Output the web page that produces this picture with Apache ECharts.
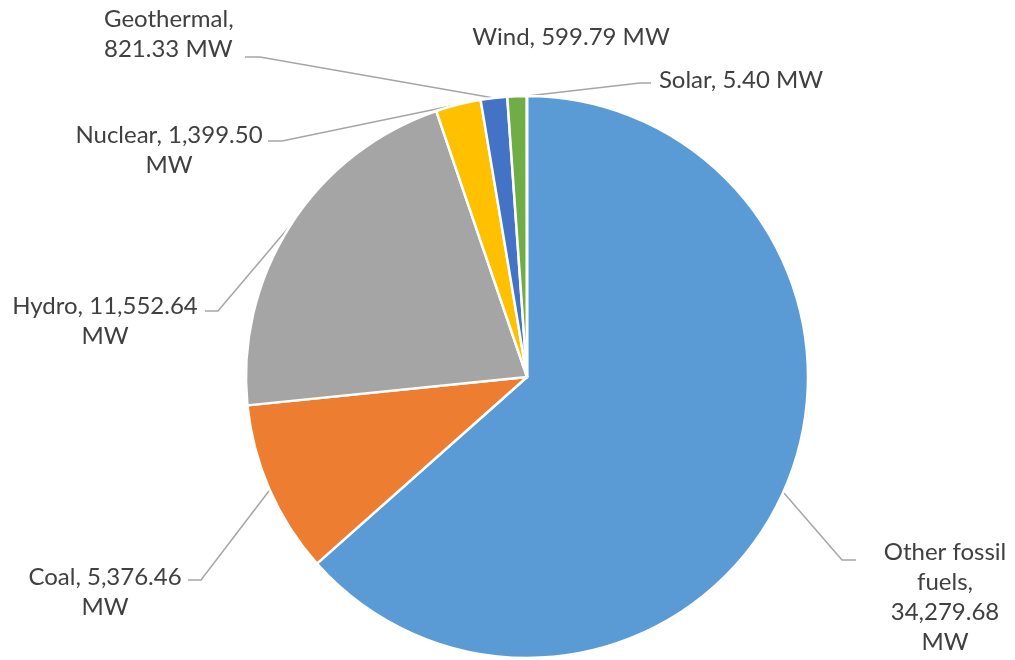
<!DOCTYPE html>
<html>
<head>
<meta charset="utf-8">
<script src="https://cdn.jsdelivr.net/npm/echarts@6/dist/echarts.min.js"></script>
<style>
  html, body { margin: 0; padding: 0; background: #ffffff; }
  #chart { width: 1015px; height: 660px; }
</style>
</head>
<body>
<div id="chart"></div>
<script>
// Installed generation capacity by source (MW)
const sources = ['Other fossil fuels', 'Coal', 'Hydro', 'Nuclear', 'Geothermal', 'Wind', 'Solar'];
const capacityMW = [34279.68, 5376.46, 11552.64, 1399.50, 821.33, 599.79, 5.40];
const sliceColors = ['#5B9BD5', '#ED7D31', '#A5A5A5', '#FFC000', '#4472C4', '#70AD47', '#255E91'];

// Word positions after which a label wraps onto a new line
const labelWrapAfter = [[2, 3, 4], [2], [2], [2], [1], [], []];

// Where each label sits and how its leader line bends before reaching it
const labelSpots = [
  { x: 945, y: 597, align: 'center', elbow: [842, 560], end: [856, 560] },
  { x: 105, y: 592, align: 'center', elbow: [201, 580], end: [188, 580] },
  { x: 105, y: 321, align: 'center', elbow: [218, 311], end: [205, 311] },
  { x: 169, y: 150, align: 'center', elbow: [282, 141], end: [268, 141] },
  { x: 104, y: 34,  align: 'left',   elbow: [260, 57],  end: [245, 57] },
  { x: 571, y: 37,  align: 'center', elbow: null, end: null },
  { x: 741, y: 80,  align: 'center', elbow: [640, 83],  end: [651, 83] }
];

function formatMW(v) {
  return v.toLocaleString('en-US', { minimumFractionDigits: 2, maximumFractionDigits: 2 });
}

function labelText(i) {
  const words = (sources[i] + ', ' + formatMW(capacityMW[i]) + ' MW').split(' ');
  let out = '';
  words.forEach(function (w, k) {
    if (k > 0) out += labelWrapAfter[i].indexOf(k) >= 0 ? '\n' : ' ';
    out += w;
  });
  return out;
}

const chart = echarts.init(document.getElementById('chart'), null, { renderer: 'canvas' });

chart.setOption({
  animation: false,
  backgroundColor: '#ffffff',
  series: [{
    type: 'pie',
    center: [527, 377],
    radius: [0, 281],
    startAngle: 90,
    clockwise: true,
    avoidLabelOverlap: false,
    itemStyle: { borderColor: '#ffffff', borderWidth: 2.5 },
    emphasis: { disabled: true },
    label: {
      show: true,
      position: 'outside',
      color: '#404040',
      fontFamily: 'Lato',
      fontSize: 24,
      lineHeight: 30,
      formatter: function (p) { return labelText(p.dataIndex); }
    },
    labelLine: {
      show: true,
      length: 20,
      length2: 10,
      lineStyle: { color: '#A6A6A6', width: 1.5 }
    },
    labelLayout: function (params) {
      const spot = labelSpots[params.dataIndex];
      const out = { x: spot.x, y: spot.y, align: spot.align, verticalAlign: 'middle' };
      if (spot.elbow && params.labelLinePoints && params.labelLinePoints.length) {
        out.labelLinePoints = [params.labelLinePoints[0], spot.elbow, spot.end];
      }
      return out;
    },
    data: sources.map(function (name, i) {
      return {
        name: name,
        value: capacityMW[i],
        itemStyle: { color: sliceColors[i] },
        labelLine: { show: labelSpots[i].elbow !== null }
      };
    })
  }]
});
</script>
</body>
</html>
